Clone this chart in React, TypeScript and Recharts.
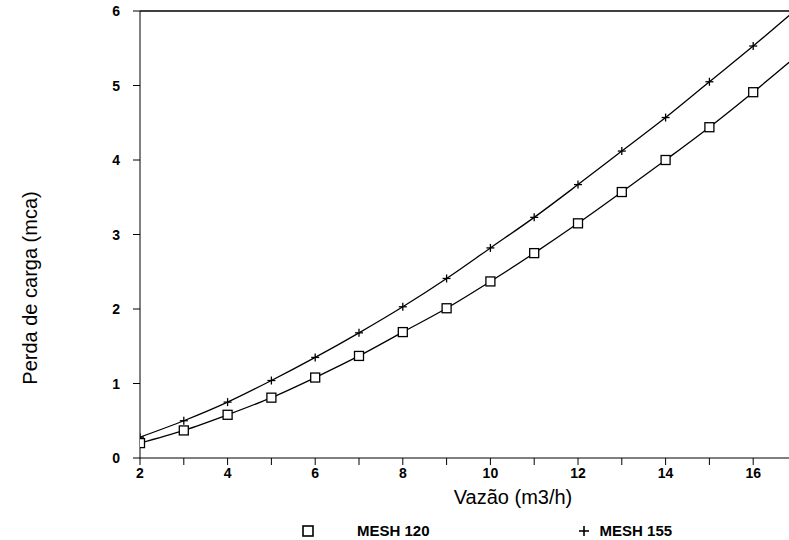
import React from "react";
import { LineChart, Line, XAxis, YAxis, ReferenceLine } from "recharts";

// vazão (m3/h) and perda de carga (mca)
const vazao = [2, 3, 4, 5, 6, 7, 8, 9, 10, 11, 12, 13, 14, 15, 16, 17];
const mesh120 = [0.2, 0.37, 0.58, 0.81, 1.08, 1.37, 1.69, 2.01, 2.37, 2.75, 3.15, 3.57, 4.0, 4.44, 4.91, 5.4];
const mesh155 = [0.28, 0.5, 0.75, 1.04, 1.35, 1.68, 2.03, 2.41, 2.82, 3.23, 3.67, 4.12, 4.57, 5.05, 5.53, 6.03];
const xTicks = [2, 3, 4, 5, 6, 7, 8, 9, 10, 11, 12, 13, 14, 15, 16];
const yTicks = [0, 1, 2, 3, 4, 5, 6];
const lastMarked = 16;

const data = vazao.map((x, i) => ({ x, m120: mesh120[i], m155: mesh155[i] }));

const FONT = "'Liberation Sans', Arial, sans-serif";

function SquareDot(props: any) {
  const { cx, cy, payload } = props;
  if (payload.x > lastMarked || cx == null) return null;
  return <rect x={cx - 4.5} y={cy - 4.5} width={9} height={9} fill="white" stroke="#000" strokeWidth={1.3} />;
}

function PlusDot(props: any) {
  const { cx, cy, payload } = props;
  if (payload.x > lastMarked || cx == null) return null;
  return (
    <g stroke="#000" strokeWidth={1.3}>
      <line x1={cx - 4} y1={cy} x2={cx + 4} y2={cy} />
      <line x1={cx} y1={cy - 4} x2={cx} y2={cy + 4} />
    </g>
  );
}

function XTick(props: any) {
  const { x, y, payload } = props;
  if (payload.value % 2 !== 0) return null;
  return (
    <text x={x} y={y} dy="0.71em" textAnchor="middle" fontFamily={FONT} fontWeight="bold" fontSize={14} fill="#000">
      {payload.value}
    </text>
  );
}

function YTick(props: any) {
  const { x, y, payload } = props;
  return (
    <text x={x} y={y + 5} textAnchor="end" fontFamily={FONT} fontWeight="bold" fontSize={14} fill="#000">
      {payload.value}
    </text>
  );
}

export default function App() {
  return (
    <div style={{ position: "absolute", left: 0, top: 0, width: 789, height: 540, overflow: "hidden", background: "#fff" }}>
      <LineChart width={800} height={540} data={data} margin={{ top: 11, right: 3, bottom: 0, left: 0 }}>
        <XAxis
          dataKey="x"
          type="number"
          domain={[2, 17]}
          ticks={xTicks}
          allowDataOverflow
          height={82}
          stroke="#000"
          tickSize={7}
          tickMargin={3}
          tick={<XTick />}
          label={{
            content: (p: any) => (
              <text x={p.viewBox.x + 373} y={p.viewBox.y + 46} textAnchor="middle" fontFamily={FONT} fontSize={20} fill="#000">
                Vazão (m3/h)
              </text>
            ),
          }}
        />
        <YAxis
          type="number"
          domain={[0, 6]}
          ticks={yTicks}
          allowDataOverflow
          width={140}
          stroke="#000"
          tickSize={7}
          tickMargin={13}
          tick={<YTick />}
          label={{
            content: () => (
              <text x={37} y={288} transform="rotate(-90 37 288)" textAnchor="middle" fontFamily={FONT} fontSize={20} fill="#000">
                Perda de carga (mca)
              </text>
            ),
          }}
        />
        <ReferenceLine y={6} stroke="#000" strokeWidth={1.3} />
        <Line
          dataKey="m155"
          type="monotone"
          stroke="#000"
          strokeWidth={1.3}
          dot={<PlusDot />}
          activeDot={false}
          isAnimationActive={false}
        />
        <Line
          dataKey="m120"
          type="monotone"
          stroke="#000"
          strokeWidth={1.3}
          dot={<SquareDot />}
          activeDot={false}
          isAnimationActive={false}
        />
      </LineChart>
      <div style={{ position: "absolute", left: 302, top: 522, fontFamily: FONT, fontWeight: "bold", fontSize: 15, display: "flex", alignItems: "center" }}>
        <svg width={12} height={12} style={{ marginRight: 43 }}>
          <rect x={1} y={1} width={10} height={10} fill="white" stroke="#000" strokeWidth={1.6} />
        </svg>
        <span>MESH 120</span>
        <svg width={12} height={12} style={{ marginLeft: 148, marginRight: 10 }}>
          <line x1={1} y1={6} x2={11} y2={6} stroke="#000" strokeWidth={1.6} />
          <line x1={6} y1={1} x2={6} y2={11} stroke="#000" strokeWidth={1.6} />
        </svg>
        <span>MESH 155</span>
      </div>
    </div>
  );
}
